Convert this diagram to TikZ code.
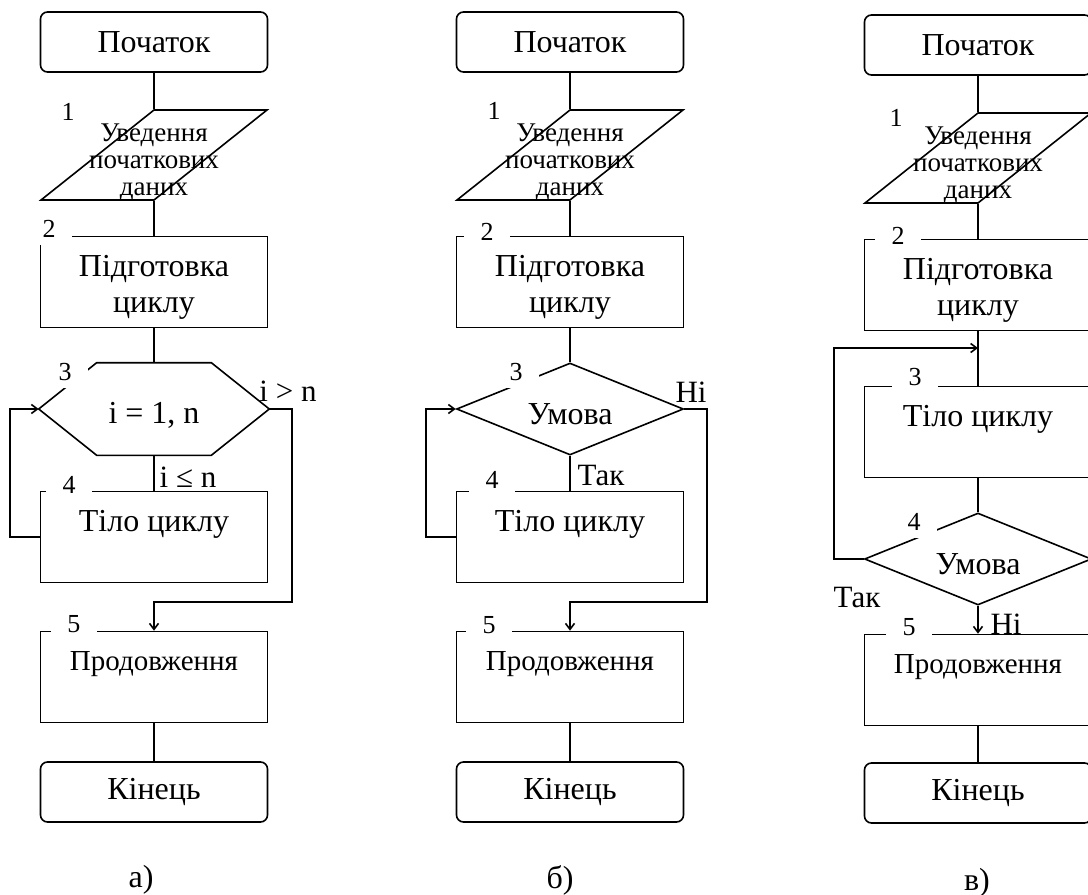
\documentclass[tikz,border=0pt]{standalone}
\usepackage{fontspec}
\setmainfont{Liberation Serif}
\usetikzlibrary{
  arrows.meta,
  shapes.geometric
}

\begin{document}
\begin{tikzpicture}[
  x=0.5pt, y=-0.5pt,
  line width=0.8pt,
  every node/.style={inner sep=0pt, font=\fontsize{16}{18}\selectfont},
  terminal/.style={draw, rounded corners=3.5pt, minimum width=113.5pt, minimum height=30pt},
  block/.style={draw, minimum width=113.5pt, minimum height=45.5pt, align=center},
  upper/.style={text height=11pt, text depth=16.5pt},
  inout/.style={draw, trapezium, trapezium left angle=58.6, trapezium right angle=121.4,
    trapezium stretches=true, minimum width=113pt, minimum height=45pt},
  intext/.style={align=center, yshift=-3.5pt, font=\fontsize{13.5}{13.5}\selectfont},
  loophead/.style={minimum width=114.5pt, minimum height=45.5pt, text height=17pt, text depth=2.5pt},
  cond/.style={draw, diamond, aspect=2.47, minimum width=113.5pt, minimum height=46pt,
    text height=15.5pt, text depth=0pt},
  num/.style={fill=white, minimum width=23pt, minimum height=16pt, font=\fontsize{13}{13}\selectfont},
  lbl/.style={font=\fontsize{15.5}{16}\selectfont},
  arr/.style={-{Straight Barb[length=3pt,width=4.5pt]}}
]
\useasboundingbox (0,0) rectangle (1088,895);
\clip (0,0) rectangle (1088,895);

% а) цикл з параметром
\node[terminal] (a0) at (154,42) {Початок};
\node[inout, label={[intext]center:Уведення\\початкових\\даних}] (a1) at (154,155) {\strut};
\node[block] (a2) at (154,282) {\rule{0pt}{15.5pt}Підготовка\\циклу};
\node[loophead] (a3) at (154,409) {i = 1, n};
\draw (a3.west) -- ([xshift=29pt]a3.north west) -- ([xshift=-29pt]a3.north east)
  -- (a3.east) -- ([xshift=-29pt]a3.south east) -- ([xshift=29pt]a3.south west) -- cycle;
\node[block, upper] (a4) at (154,537) {Тіло циклу};
\node[block, text height=10pt, text depth=17pt, font=\fontsize{14.5}{18}\selectfont] (a5) at (154,677) {Продовження};
\node[terminal] (a6) at (154,792) {Кінець};
\node[num] at (68,112) {1};
\node[num] at (49,229) {2};
\node[num] at (65,372) {3};
\node[num] at (69,485) {4};
\node[num] at (74,624) {5};
\node[lbl] at (288,391) {i > n};
\node[lbl] at (188,477) {i ≤ n};
\coordinate (a3x) at (292,602);
\draw (a0.south) -- (a1.north) (a1.south) -- (a2.north) (a2.south) -- (a3.north)
  (a3.south) -- (a4.north) (a5.south) -- (a6.north);
\draw[arr] (a4.west) -- ++(-30,0) |- (a3.west);
\draw[arr] (a3.east) -| (a3x) -| (a5.north);
\node at (141,880) {а)};

% б) цикл з передумовою
\node[terminal] (b0) at (570,42) {Початок};
\node[inout, label={[intext]center:Уведення\\початкових\\даних}] (b1) at (570,155) {\strut};
\node[block] (b2) at (570,282) {\rule{0pt}{15.5pt}Підготовка\\циклу};
\node[cond] (b3) at (570,409) {Умова\hspace{8pt}};
\node[block, upper] (b4) at (570,537) {Тіло циклу};
\node[block, text height=10pt, text depth=17pt, font=\fontsize{14.5}{18}\selectfont] (b5) at (570,677) {Продовження};
\node[terminal] (b6) at (570,792) {Кінець};
\node[num] at (494,111) {1};
\node[num] at (487,232) {2};
\node[num] at (516,372) {3};
\node[num] at (492,480) {4};
\node[num] at (489,625) {5};
\node[lbl] at (691,392) {Ні};
\node[lbl] at (601,475) {Так};
\coordinate (b3x) at (707,602);
\draw (b0.south) -- (b1.north) (b1.south) -- (b2.north) (b2.south) -- (b3.north)
  (b3.south) -- (b4.north) (b5.south) -- (b6.north);
\draw[arr] (b4.west) -- ++(-30,0) |- (b3.west);
\draw[arr] (b3.east) -| (b3x) -| (b5.north);
\node at (560,880) {б)};

% в) цикл з післяумовою
\node[terminal] (c0) at (978,45) {Початок};
\node[inout, label={[intext]center:Уведення\\початкових\\даних}] (c1) at (978,158) {\strut};
\node[block] (c2) at (978,285) {\rule{0pt}{15.5pt}Підготовка\\циклу};
\node[block, upper] (c3) at (978,432) {Тіло циклу};
\node[cond] (c4) at (978,559) {Умова\hspace{8pt}};
\node[block, text height=10pt, text depth=17pt, font=\fontsize{14.5}{18}\selectfont] (c5) at (978,680) {Продовження};
\node[terminal] (c6) at (978,793) {Кінець};
\node[num] at (896,118) {1};
\node[num] at (898,236) {2};
\node[num] at (915,377) {3};
\node[num] at (914,522) {4};
\node[num] at (909,627) {5};
\node[lbl] at (857,597) {Так};
\node[lbl] at (1006,624) {Ні};
\coordinate (c23) at (978,348);
\draw (c0.south) -- (c1.north) (c1.south) -- (c2.north) (c2.south) -- (c3.north)
  (c3.south) -- (c4.north) (c5.south) -- (c6.north);
\draw[arr] (c4.west) -- ++(-30,0) |- (c23);
\draw[arr] (c4.south) -- (c5.north);
\node at (977,883) {в)};
\end{tikzpicture}
\end{document}
